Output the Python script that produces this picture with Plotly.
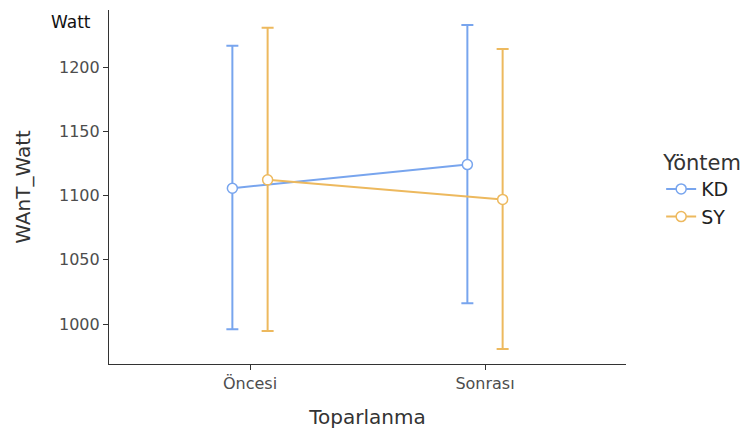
import plotly.graph_objects as go

# Recovery phase categories and method groups
phases = ["Öncesi", "Sonrası"]
methods = ["KD", "SY"]

# Mean WAnT power (Watt) with lower / upper error-bar limits
kd_mean = [1105.7, 1124.1]
kd_low = [995.9, 1016.1]
kd_high = [1216.6, 1232.7]

sy_mean = [1112.2, 1097.0]
sy_low = [994.5, 980.5]
sy_high = [1230.6, 1214.0]

colors = {"KD": "#78a5ee", "SY": "#edb95e"}
dodge = {"KD": -0.075, "SY": 0.075}
series = {
    "KD": (kd_mean, kd_low, kd_high),
    "SY": (sy_mean, sy_low, sy_high),
}

FONT = "DejaVu Sans"

fig = go.Figure()
for m in methods:
    mean, low, high = series[m]
    xs = [i + 1 + dodge[m] for i in range(len(phases))]
    fig.add_trace(go.Scatter(
        x=xs,
        y=mean,
        name=m,
        mode="lines+markers",
        line=dict(color=colors[m], width=2),
        marker=dict(size=10, color="white", line=dict(color=colors[m], width=1.5)),
        error_y=dict(
            type="data",
            symmetric=False,
            array=[h - v for h, v in zip(high, mean)],
            arrayminus=[v - l for v, l in zip(mean, low)],
            color=colors[m],
            thickness=2,
            width=6,
        ),
    ))

fig.update_layout(
    width=750,
    height=430,
    margin=dict(l=109, r=124, t=10, b=66, autoexpand=False),
    plot_bgcolor="white",
    paper_bgcolor="white",
    font=dict(family=FONT, color="#4d4d4d"),
    legend=dict(
        title=dict(text="Yöntem", font=dict(size=21, color="#333333")),
        font=dict(size=19, color="#222222"),
        x=1.068, xanchor="left",
        y=0.625, yanchor="top",
        bgcolor="rgba(0,0,0,0)",
        tracegroupgap=0,
    ),
    showlegend=True,
)

fig.update_xaxes(
    range=[0.4, 2.6],
    tickvals=[i + 1 for i in range(len(phases))],
    ticktext=phases,
    showline=True, linecolor="#333333", linewidth=1.2,
    ticks="outside", ticklen=5, tickcolor="#333333",
    tickfont=dict(size=16, color="#4d4d4d"),
    showgrid=False, zeroline=False, automargin=False,
    title=dict(text="Toparlanma", font=dict(size=20, color="#333333"), standoff=17),
)

fig.update_yaxes(
    range=[968.9, 1244.4],
    tickvals=[1000, 1050, 1100, 1150, 1200],
    showline=True, linecolor="#333333", linewidth=1.2,
    ticks="outside", ticklen=5, tickcolor="#333333",
    tickfont=dict(size=16, color="#4d4d4d"),
    showgrid=False, zeroline=False, automargin=False,
    title=dict(text="WAnT_Watt", font=dict(size=20, color="#333333"), standoff=22),
)

fig.add_annotation(
    text="Watt", xref="paper", yref="paper",
    x=-0.0735, y=0.966, xanchor="center", yanchor="middle",
    showarrow=False, font=dict(family=FONT, size=17, color="#111111"),
)

fig.write_html("out.html")
